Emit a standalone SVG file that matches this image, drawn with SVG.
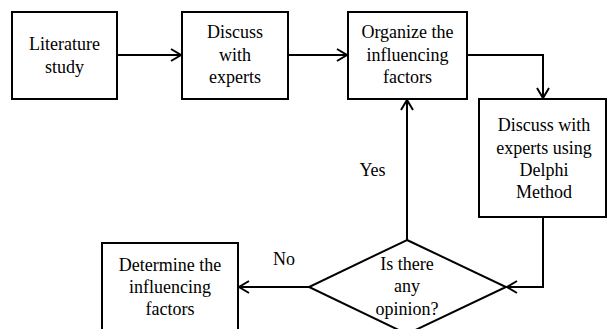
<svg xmlns="http://www.w3.org/2000/svg" width="608" height="329" viewBox="0 0 608 329">
<style>
.box{fill:#fff;stroke:#000;stroke-width:2}
.t{font-family:"Liberation Serif","Times New Roman",serif;font-size:18px;fill:#000;text-anchor:middle}
.c{fill:none;stroke:#000;stroke-width:2}
</style>
<defs>
<marker id="ah" markerUnits="userSpaceOnUse" markerWidth="14" markerHeight="14" viewBox="0 0 14 14" refX="12" refY="7" orient="auto">
<path d="M2,1 L12,7 L2,13" fill="none" stroke="#000" stroke-width="2"/>
</marker>
</defs>
<rect width="608" height="329" fill="#fff"/>
<g id="connectors">
<line class="c" x1="117" y1="55" x2="181" y2="55" marker-end="url(#ah)"/>
<line class="c" x1="288" y1="55" x2="347" y2="55" marker-end="url(#ah)"/>
<polyline class="c" points="467,55 543,55 543,98" marker-end="url(#ah)"/>
<polyline class="c" points="543,217 543,287 507,287" marker-end="url(#ah)"/>
<line class="c" x1="407" y1="240" x2="407" y2="100" marker-end="url(#ah)"/>
<line class="c" x1="309" y1="287" x2="239" y2="287" marker-end="url(#ah)"/>
<text class="t" x="372.5" y="176">Yes</text>
<text class="t" x="284" y="265">No</text>
</g>
<g id="literature">
<rect class="box" x="12" y="12" width="105" height="87"/>
<text class="t" x="64.5" y="50">Literature</text>
<text class="t" x="64.5" y="73">study</text>
</g>
<g id="discuss">
<rect class="box" x="182" y="12" width="106" height="87"/>
<text class="t" x="235" y="38">Discuss</text>
<text class="t" x="235" y="61">with</text>
<text class="t" x="235" y="83">experts</text>
</g>
<g id="organize">
<rect class="box" x="348" y="12" width="119" height="87"/>
<text class="t" x="407.5" y="38">Organize the</text>
<text class="t" x="407.5" y="61">influencing</text>
<text class="t" x="407.5" y="83">factors</text>
</g>
<g id="delphi">
<rect class="box" x="479" y="99" width="127" height="118"/>
<text class="t" x="544" y="131">Discuss with</text>
<text class="t" x="544" y="154">experts using</text>
<text class="t" x="544" y="176">Delphi</text>
<text class="t" x="544" y="198">Method</text>
</g>
<g id="decision">
<polygon class="box" points="407,240 506,287 407,334 309,287"/>
<text class="t" x="407" y="270">Is there</text>
<text class="t" x="407" y="292">any</text>
<text class="t" x="407" y="315">opinion?</text>
</g>
<g id="determine">
<rect class="box" x="102" y="243" width="136" height="95"/>
<text class="t" x="170" y="271">Determine the</text>
<text class="t" x="170" y="293">influencing</text>
<text class="t" x="170" y="315">factors</text>
</g>
</svg>
